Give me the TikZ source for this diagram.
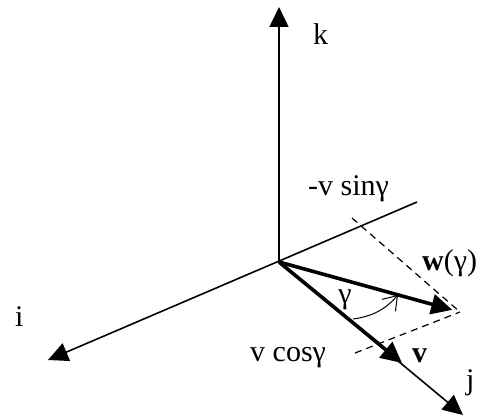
\documentclass[tikz,border=0pt]{standalone}
\usepackage{fontspec}
\setmainfont{Liberation Serif}
\usetikzlibrary{arrows.meta}
\begin{document}
\begin{tikzpicture}[x=1pt,y=1pt,font=\fontsize{30}{36}\selectfont,
  every node/.style={inner sep=0pt},
  lab/.style={anchor=base west},
  axis/.style={line width=1.6pt,-{Triangle[length=20pt,width=19pt]}},
  vec/.style={line width=3.6pt,-{Triangle[length=21pt,width=20pt]}},
  proj/.style={line width=1.2pt,dash pattern=on 7pt off 5pt}]
\useasboundingbox (0,0) rectangle (490,416);
\coordinate (O) at (279,154);
\coordinate (ktip) at (279,409);\coordinate (itip) at (48,56);
\coordinate (iend) at (417,214);\coordinate (jtip) at (463,1);
\coordinate (vtip) at (402,53);\coordinate (wtip) at (460,104);
\coordinate (ps) at (352,198);\coordinate (pc) at (355,63);
\coordinate (ga) at (353,97);\coordinate (gb) at (398,121);
% axes
\draw[axis] (O)--(ktip);
\draw[axis] (iend)--(itip);
\draw[axis] (O)--(jtip);
% projections
\draw[proj] (ps)--(wtip);
\draw[proj] (pc)--(wtip);
% vectors
\draw[vec] (O)--(vtip);
\draw[vec,shorten >=8pt] (O)--(wtip);
\draw[line width=1pt,-{Straight Barb[length=13pt,width=18pt]}] (ga) to[bend right=20] (gb);
\node[lab] (klab) at (313,371) {k};
\node[lab] (ilab) at (15,90) {i};
\node[lab] (jlab) at (466,27) {j};
\node[lab] (slab) at (308,221) {-v sinγ};
\node[lab] (wlab) at (422,146) {\textbf{w}(γ)};
\node[lab] (clab) at (250,55) {v cosγ};
\node[lab] (vlab) at (412,54) {\textbf{v}};
\node (glab) at (345,116) {γ};
\end{tikzpicture}
\end{document}
